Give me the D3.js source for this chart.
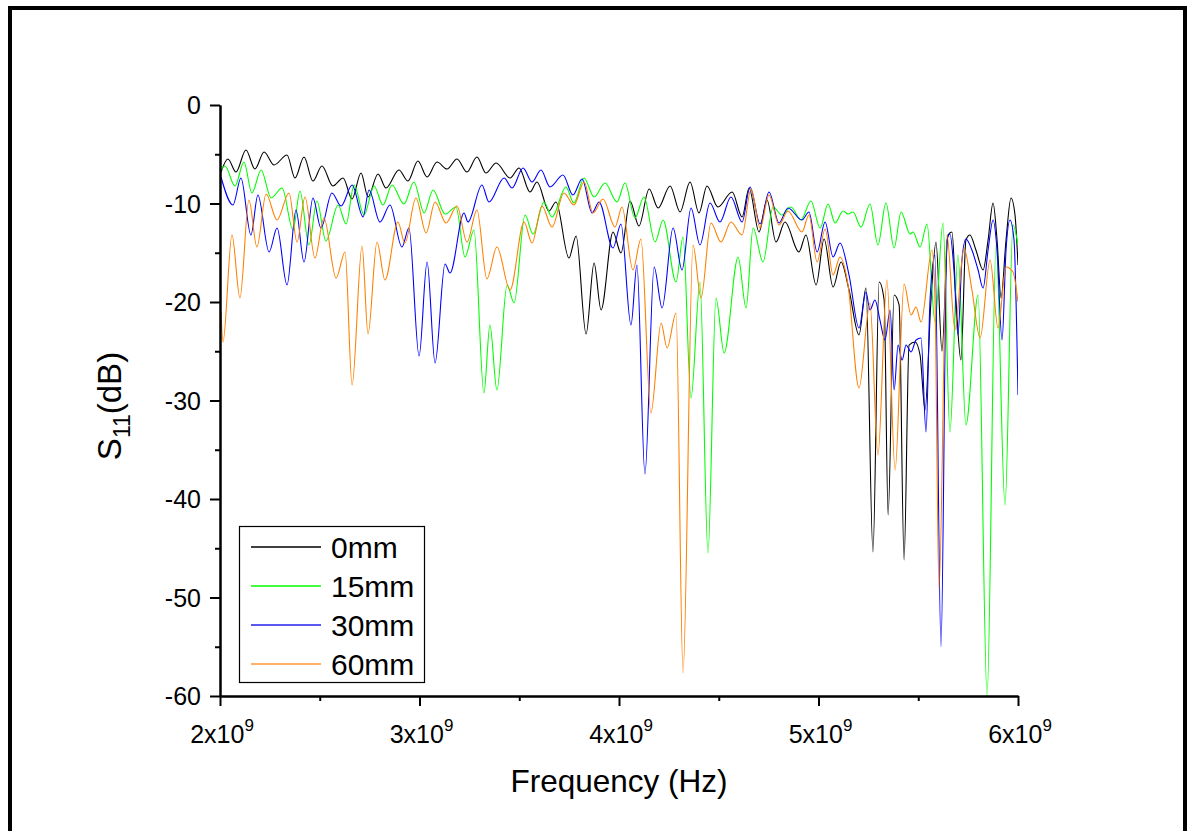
<!DOCTYPE html>
<html><head><meta charset="utf-8">
<script src="https://cdn.jsdelivr.net/npm/d3@7"></script>
<style>body{margin:0;background:#fff}svg{display:block}text{font-family:Arial,"Liberation Sans",sans-serif;fill:#000}</style>
</head><body><svg id="c" width="1192" height="831"></svg>
<script>
// frequency in GHz, S11 in dB
const series0mm = [[2.005,-6.8],[2.040,-5.48],[2.080,-6.8],[2.130,-4.57],[2.175,-6.5],[2.221,-4.77],[2.271,-6.09],[2.336,-5.08],[2.376,-7.41],[2.421,-5.28],[2.466,-7.72],[2.511,-6.19],[2.566,-8.22],[2.617,-7.41],[2.662,-9.54],[2.707,-6.9],[2.742,-9.34],[2.792,-7.01],[2.832,-8.43],[2.897,-6.6],[2.942,-7.72],[2.992,-5.69],[3.038,-7.31],[3.088,-5.79],[3.138,-6.5],[3.188,-5.48],[3.238,-6.8],[3.288,-5.28],[3.333,-6.9],[3.384,-5.89],[3.454,-7.41],[3.499,-6.4],[3.554,-8.83],[3.589,-7.82],[3.649,-10.76],[3.684,-9.85],[3.749,-15.53],[3.785,-13.3],[3.835,-23.25],[3.875,-16.04],[3.910,-20.81],[3.970,-12.89],[4.010,-15.03],[4.055,-9.75],[4.100,-12.28],[4.151,-8.53],[4.196,-10.46],[4.256,-8.22],[4.306,-10.86],[4.356,-7.82],[4.401,-10.96],[4.441,-8.22],[4.496,-10.36],[4.567,-8.83],[4.617,-11.37],[4.652,-8.43],[4.702,-12.89],[4.742,-9.64],[4.787,-13.91],[4.832,-11.88],[4.902,-14.92],[4.937,-13.2],[4.988,-18.27],[5.028,-13.6],[5.073,-18.48],[5.113,-15.94],[5.153,-18.78],[5.203,-23.35],[5.238,-18.58],[5.273,-45.38],[5.304,-17.97],[5.329,-19.8],[5.349,-41.62],[5.379,-19.29],[5.404,-20.3],[5.429,-46.19],[5.454,-24.37],[5.484,-24.06],[5.509,-25.38],[5.534,-30.96],[5.564,-19.8],[5.589,-13.91],[5.619,-25.0],[5.649,-13.2],[5.669,-12.89],[5.689,-19.8],[5.714,-25.89],[5.739,-13.71],[5.759,-13.2],[5.789,-14.72],[5.825,-16.75],[5.850,-13.71],[5.875,-9.95],[5.895,-13.71],[5.915,-19.59],[5.940,-13.71],[5.965,-9.44],[5.985,-11.17],[6.000,-16.24]];
const series15mm = [[2.005,-6.6],[2.025,-6.19],[2.075,-8.22],[2.120,-5.79],[2.160,-8.93],[2.206,-6.6],[2.256,-9.44],[2.311,-8.43],[2.366,-12.69],[2.401,-8.73],[2.446,-14.21],[2.486,-9.75],[2.531,-13.81],[2.592,-10.15],[2.632,-12.08],[2.672,-8.12],[2.722,-11.17],[2.772,-8.22],[2.817,-10.15],[2.862,-8.12],[2.922,-10.05],[2.972,-7.82],[3.023,-10.96],[3.068,-8.63],[3.128,-11.07],[3.183,-10.36],[3.228,-15.43],[3.273,-12.69],[3.323,-29.24],[3.353,-22.34],[3.388,-28.93],[3.439,-18.27],[3.474,-20.1],[3.529,-11.17],[3.569,-13.1],[3.624,-9.85],[3.664,-11.37],[3.734,-8.32],[3.774,-9.95],[3.825,-7.41],[3.875,-9.34],[3.930,-7.92],[3.990,-9.85],[4.030,-7.92],[4.080,-11.47],[4.125,-9.34],[4.181,-13.91],[4.221,-11.67],[4.286,-17.97],[4.321,-13.4],[4.361,-29.75],[4.406,-17.97],[4.446,-45.48],[4.486,-19.59],[4.527,-25.18],[4.597,-15.43],[4.637,-20.61],[4.672,-12.49],[4.722,-15.94],[4.772,-10.36],[4.817,-11.17],[4.862,-10.36],[4.912,-11.67],[4.962,-9.75],[5.008,-12.49],[5.048,-10.05],[5.083,-11.98],[5.123,-10.76],[5.148,-11.07],[5.173,-10.86],[5.213,-12.39],[5.258,-10.05],[5.298,-14.21],[5.338,-9.95],[5.379,-14.52],[5.414,-10.86],[5.459,-13.1],[5.474,-12.89],[5.509,-14.42],[5.544,-12.08],[5.584,-22.03],[5.624,-11.98],[5.659,-33.2],[5.699,-15.23],[5.739,-32.49],[5.800,-19.29],[5.845,-60.0],[5.890,-14.21],[5.935,-40.61],[5.975,-12.18],[6.000,-14.21]];
const series30mm = [[2.005,-7.31],[2.065,-10.15],[2.105,-7.41],[2.155,-13.2],[2.190,-9.14],[2.246,-14.92],[2.286,-12.49],[2.336,-18.27],[2.381,-10.66],[2.421,-15.94],[2.466,-9.44],[2.506,-12.49],[2.561,-8.93],[2.607,-10.25],[2.662,-8.12],[2.717,-11.37],[2.747,-8.63],[2.802,-11.88],[2.852,-10.15],[2.912,-14.42],[2.947,-12.49],[2.998,-25.48],[3.038,-15.94],[3.078,-26.19],[3.128,-16.14],[3.153,-17.06],[3.223,-10.96],[3.243,-11.88],[3.313,-8.12],[3.348,-9.85],[3.424,-7.41],[3.464,-8.43],[3.519,-6.4],[3.564,-7.82],[3.609,-6.6],[3.654,-8.32],[3.719,-7.11],[3.769,-9.14],[3.815,-7.51],[3.865,-10.96],[3.900,-9.85],[3.970,-14.52],[4.010,-12.08],[4.060,-22.34],[4.090,-16.24],[4.130,-37.46],[4.176,-16.45],[4.216,-20.61],[4.271,-12.49],[4.316,-16.75],[4.361,-10.46],[4.406,-14.21],[4.456,-9.95],[4.506,-11.88],[4.561,-9.34],[4.617,-11.88],[4.657,-8.32],[4.707,-12.08],[4.752,-8.83],[4.802,-11.98],[4.847,-10.46],[4.917,-11.67],[4.952,-10.86],[4.993,-14.92],[5.033,-11.88],[5.073,-15.43],[5.108,-14.01],[5.153,-17.26],[5.203,-22.64],[5.238,-18.98],[5.258,-20.81],[5.283,-19.8],[5.308,-21.83],[5.333,-23.86],[5.359,-20.81],[5.379,-28.93],[5.399,-24.37],[5.419,-25.89],[5.439,-24.37],[5.464,-25.08],[5.489,-23.86],[5.514,-23.65],[5.539,-33.2],[5.559,-19.8],[5.584,-15.23],[5.614,-55.0],[5.644,-13.71],[5.659,-13.1],[5.679,-16.75],[5.699,-23.35],[5.719,-15.74],[5.739,-13.6],[5.769,-14.72],[5.800,-16.75],[5.825,-18.58],[5.850,-14.72],[5.875,-11.67],[5.895,-14.72],[5.920,-23.86],[5.940,-14.72],[5.960,-11.67],[5.980,-13.71],[6.000,-29.44]];
const series60mm = [[2.005,-21.02],[2.015,-24.06],[2.060,-13.2],[2.100,-19.59],[2.145,-9.64],[2.185,-14.42],[2.231,-9.04],[2.286,-11.67],[2.346,-8.93],[2.386,-13.91],[2.426,-9.34],[2.476,-15.53],[2.521,-11.47],[2.582,-17.56],[2.627,-14.92],[2.662,-28.43],[2.712,-14.31],[2.742,-23.25],[2.787,-13.91],[2.827,-17.77],[2.892,-11.88],[2.927,-14.01],[2.982,-9.44],[3.033,-12.99],[3.078,-9.85],[3.133,-11.98],[3.188,-10.25],[3.238,-13.91],[3.288,-10.66],[3.338,-17.66],[3.388,-14.42],[3.454,-18.78],[3.524,-11.88],[3.564,-14.01],[3.614,-10.25],[3.664,-12.39],[3.724,-8.93],[3.774,-10.15],[3.825,-7.82],[3.870,-10.96],[3.920,-9.54],[3.980,-12.39],[4.015,-10.36],[4.070,-16.75],[4.110,-13.6],[4.160,-31.27],[4.211,-22.13],[4.241,-24.67],[4.286,-21.12],[4.321,-57.66],[4.371,-14.21],[4.411,-19.59],[4.461,-11.98],[4.511,-13.91],[4.561,-11.88],[4.617,-13.2],[4.662,-8.53],[4.707,-12.49],[4.752,-9.14],[4.802,-12.18],[4.847,-10.76],[4.917,-12.89],[4.952,-11.17],[4.993,-15.94],[5.033,-12.59],[5.073,-17.26],[5.108,-15.43],[5.148,-18.27],[5.203,-28.73],[5.258,-20.1],[5.298,-35.53],[5.343,-17.77],[5.384,-37.06],[5.429,-18.17],[5.464,-21.32],[5.489,-20.51],[5.514,-22.03],[5.569,-14.72],[5.584,-19.8],[5.604,-49.24],[5.644,-13.2],[5.684,-22.84],[5.729,-14.52],[5.769,-18.78],[5.810,-23.65],[5.860,-15.74],[5.900,-22.64],[5.940,-16.45],[5.975,-16.95],[6.000,-20.0]];

const seriesNames = ["0mm","15mm","30mm","60mm"];
const seriesColors = ["#000000","#00ff00","#0000ff","#ff8000"];
const legendColors = ["#000000","#00ff00","#2222ee","#ff9933"];
const xMajorTicks = [2,3,4,5,6];
const xMinorTicks = [2.5,3.5,4.5,5.5];
const yMajorTicks = [0,-10,-20,-30,-40,-50,-60];
const yMinorTicks = [-5,-15,-25,-35,-45,-55];

const svg = d3.select("#c");
// outer frame
svg.append("rect").attr("x",10).attr("y",8).attr("width",1175).attr("height",900)
  .attr("fill","none").attr("stroke","#000").attr("stroke-width",4);

const L=220,R=1018,T=105,B=696;
const x = d3.scaleLinear().domain([2,6]).range([L,R]);
const y = d3.scaleLinear().domain([-60,0]).range([B,T]);

svg.append("clipPath").attr("id","clip").append("rect")
  .attr("x",L).attr("y",T-2).attr("width",R-L).attr("height",B-T+2);

const line = d3.line().x(d=>x(d[0])).y(d=>y(d[1])).curve(d3.curveMonotoneX);
const g = svg.append("g").attr("clip-path","url(#clip)");
[series0mm,series15mm,series30mm,series60mm].forEach((s,i)=>{
  g.append("path").datum(s).attr("d",line).attr("fill","none")
   .attr("stroke",seriesColors[i]).attr("stroke-width",1.1);
});

// axes
const yAx = svg.append("g").attr("transform",`translate(${L},0)`)
  .call(d3.axisLeft(y).tickValues(yMajorTicks).tickSize(10).tickPadding(9).tickSizeOuter(0).tickFormat(d=>String(d)));
const yMin = svg.append("g").attr("transform",`translate(${L},0)`)
  .call(d3.axisLeft(y).tickValues(yMinorTicks).tickSize(5).tickSizeOuter(0).tickFormat(""));
const xAx = svg.append("g").attr("transform",`translate(0,${B})`)
  .call(d3.axisBottom(x).tickValues(xMajorTicks).tickSize(10).tickPadding(14).tickSizeOuter(0).tickFormat(""));
const xMin = svg.append("g").attr("transform",`translate(0,${B})`)
  .call(d3.axisBottom(x).tickValues(xMinorTicks).tickSize(5).tickSizeOuter(0).tickFormat(""));
[yAx,yMin,xAx,xMin].forEach(a=>{
  a.select(".domain").attr("stroke","#000").attr("stroke-width",2);
  a.selectAll(".tick line").attr("stroke","#000").attr("stroke-width",2);
});
yAx.selectAll(".tick text").attr("font-size",25).attr("font-family","Arial, 'Liberation Sans', sans-serif").attr("dy","0.35em");

// x tick labels with superscript
xMajorTicks.forEach(v=>{
  const t = svg.append("text").attr("x",x(v)+2).attr("y",743).attr("text-anchor","middle")
    .attr("font-size",25);
  t.append("tspan").text(v+"x10");
  t.append("tspan").attr("font-size",17).attr("dy",-12).text("9");
});

// axis titles
svg.append("text").attr("x",619).attr("y",792).attr("text-anchor","middle")
  .attr("font-size",31.5).text("Frequency (Hz)");
const yt = svg.append("text").attr("transform","translate(121,406) rotate(-90)")
  .attr("text-anchor","middle").attr("font-size",33);
yt.append("tspan").text("S");
yt.append("tspan").attr("font-size",23).attr("dy",9).text("11");
yt.append("tspan").attr("dy",-9).text("(dB)");

// legend
svg.append("rect").attr("x",239.5).attr("y",526.5).attr("width",185).attr("height",156)
  .attr("fill","#fff").attr("stroke","#000").attr("stroke-width",1.2);
const rowY = d3.scaleLinear().domain([0,3]).range([547,664]);
seriesNames.forEach((n,i)=>{
  svg.append("line").attr("x1",251).attr("x2",321).attr("y1",rowY(i)).attr("y2",rowY(i))
    .attr("stroke",legendColors[i]).attr("stroke-width",1.3);
  svg.append("text").attr("x",331).attr("y",rowY(i)).attr("dy","0.36em")
    .attr("font-size",30).text(n);
});
</script></body></html>
